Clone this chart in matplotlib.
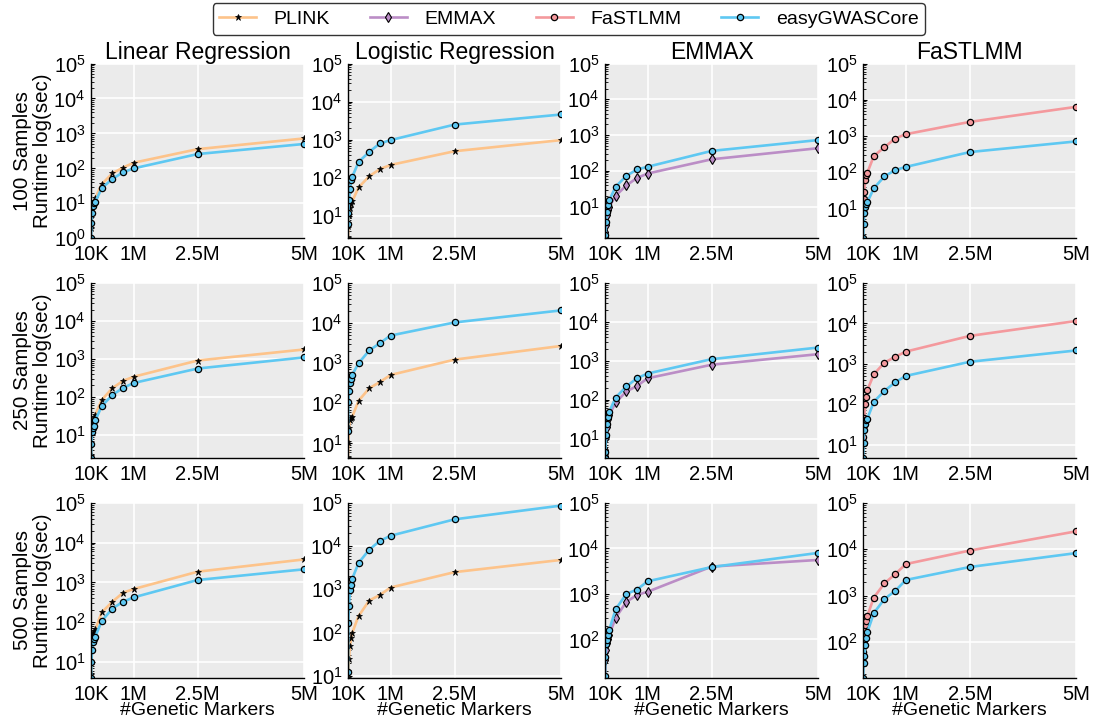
import numpy as np
import matplotlib.pyplot as plt
from matplotlib.ticker import LogLocator, NullFormatter, LogFormatterMathtext

plt.rcParams['font.family'] = ['Liberation Sans', 'DejaVu Sans']
plt.rcParams['mathtext.fontset'] = 'custom'
plt.rcParams['mathtext.rm'] = 'Liberation Sans'
plt.rcParams['mathtext.it'] = 'Liberation Sans:italic'
plt.rcParams['mathtext.default'] = 'regular'

# number of genetic markers
n_markers = [1e3, 1e4, 2.5e4, 5e4, 7.5e4, 1e5, 2.5e5, 5e5, 7.5e5, 1e6, 2.5e6, 5e6]
xtick_pos = [1e4, 1e6, 2.5e6, 5e6]
xtick_lbl = ['10K', '1M', '2.5M', '5M']

sample_sizes = [100, 250, 500]
methods = ['Linear Regression', 'Logistic Regression', 'EMMAX', 'FaSTLMM']

# runtimes in seconds
# 100 samples
plink_lin_100 = [2.0, 4.5, 8, 10, 12, 14, 35, 72, 105, 145, 355, 720]
easy_lin_100 = [1.0, 2.8, 5.2, 8.2, 10, 11, 27, 50, 77, 100, 257, 500]
plink_log_100 = [2.6, 5.4, 10.6, 16.6, 20, 24, 56, 110, 170, 218, 500, 980]
easy_log_100 = [6, 12, 26, 51, 89, 105, 260, 480, 800, 980, 2500, 4600]
emmax_100 = [1.5, 2.0, 3.0, 5.8, 8, 10, 20, 39, 63, 84, 210, 430]
easy_emmax_100 = [1.3, 1.6, 3.8, 7.2, 11, 15, 36, 72, 109, 130, 360, 725]
fastlmm_100 = [8, 18, 29, 59, 85, 98, 280, 490, 850, 1120, 2450, 6400]
easy_fast_100 = [1.5, 3.6, 7.3, 11, 13, 15, 36, 77, 114, 140, 360, 710]

# 250 samples
plink_lin_250 = [3, 12, 18, 25, 29, 34, 83, 170, 265, 340, 910, 1780]
easy_lin_250 = [2.5, 5.8, 11.7, 15, 17.6, 24, 57, 113, 172, 233, 560, 1100]
plink_log_250 = [4.4, 10.6, 24, 38, 42, 46, 116, 237, 340, 510, 1230, 2700]
easy_log_250 = [20, 110, 205, 316, 400, 510, 1000, 2080, 3160, 4900, 10400, 20800]
emmax_250 = [3.5, 5, 11, 20, 32, 40, 85, 162, 225, 355, 790, 1480]
easy_emmax_250 = [3.2, 4.5, 12, 23, 36, 49, 113, 218, 355, 470, 1100, 2190]
fastlmm_250 = [15, 30, 46, 98, 148, 225, 550, 1070, 1480, 2000, 4900, 11500]
easy_fast_250 = [4.7, 11, 23.5, 32, 40, 44, 114, 214, 345, 500, 1120, 2140]

# 500 samples
plink_lin_500 = [5, 29, 42, 52, 60, 66, 175, 325, 550, 680, 1860, 3800]
easy_lin_500 = [4, 10, 20, 31, 38, 43, 106, 220, 325, 420, 1150, 2140]
plink_log_500 = [9, 13, 24, 50, 74, 98, 240, 550, 740, 1100, 2500, 4800]
easy_log_500 = [12, 170, 417, 980, 1230, 1740, 4070, 8300, 13200, 17400, 41700, 87000]
emmax_500 = [14.5, 35, 60, 85, 105, 125, 300, 670, 950, 1120, 4000, 5600]
easy_emmax_500 = [16, 41, 78, 97, 123, 163, 460, 1000, 1250, 1900, 3900, 8000]
fastlmm_500 = [60, 110, 185, 230, 280, 370, 910, 1850, 2900, 4800, 9400, 24500]
easy_fast_500 = [17, 35, 49, 85, 122, 165, 420, 850, 1260, 2180, 4150, 8300]

styles = {
    'PLINK': dict(color='#fdc38a', marker='*', mfc='black', mec='black', ms=5, mew=0.5),
    'EMMAX': dict(color='#bb8dc6', marker='d', mfc='#bb8dc6', mec='black', ms=5.5, mew=0.8),
    'FaSTLMM': dict(color='#f4999d', marker='o', mfc='#f4999d', mec='black', ms=4.5, mew=0.9),
    'easyGWASCore': dict(color='#5ec8f2', marker='o', mfc='#5ec8f2', mec='black', ms=4.5, mew=0.9),
}

panels = [
    [[('PLINK', plink_lin_100), ('easyGWASCore', easy_lin_100)],
     [('PLINK', plink_log_100), ('easyGWASCore', easy_log_100)],
     [('EMMAX', emmax_100), ('easyGWASCore', easy_emmax_100)],
     [('FaSTLMM', fastlmm_100), ('easyGWASCore', easy_fast_100)]],
    [[('PLINK', plink_lin_250), ('easyGWASCore', easy_lin_250)],
     [('PLINK', plink_log_250), ('easyGWASCore', easy_log_250)],
     [('EMMAX', emmax_250), ('easyGWASCore', easy_emmax_250)],
     [('FaSTLMM', fastlmm_250), ('easyGWASCore', easy_fast_250)]],
    [[('PLINK', plink_lin_500), ('easyGWASCore', easy_lin_500)],
     [('PLINK', plink_log_500), ('easyGWASCore', easy_log_500)],
     [('EMMAX', emmax_500), ('easyGWASCore', easy_emmax_500)],
     [('FaSTLMM', fastlmm_500), ('easyGWASCore', easy_fast_500)]],
]

fig = plt.figure(figsize=(10.94, 7.22), dpi=100)
lefts = [0.0832, 0.318, 0.553, 0.789]
bottoms = [0.670, 0.366, 0.0614]
w, h = 0.195, 0.242

for r, row in enumerate(panels):
    for c, series in enumerate(row):
        ax = fig.add_axes([lefts[c], bottoms[r], w, h])
        ax.set_facecolor('#ebebeb')
        for name, vals in series:
            ax.plot(n_markers, vals, lw=1.9, label=name, **styles[name])
        ax.set_yscale('log')
        ymin = min(min(v) for _, v in series)
        ax.set_ylim(ymin, 1e5)
        ax.set_xlim(0, 5e6)
        ax.yaxis.set_major_locator(LogLocator(base=10, numticks=10))
        ax.yaxis.set_major_formatter(LogFormatterMathtext())
        ax.yaxis.set_minor_locator(LogLocator(base=10, subs=np.arange(2, 10), numticks=10))
        ax.yaxis.set_minor_formatter(NullFormatter())
        ax.set_xticks(xtick_pos)
        ax.set_xticklabels(xtick_lbl)
        ax.grid(True, which='major', color='white', lw=1.2)
        ax.set_axisbelow(True)
        for s in ['top', 'right']:
            ax.spines[s].set_visible(False)
        for s in ['left', 'bottom']:
            ax.spines[s].set_color('black')
            ax.spines[s].set_linewidth(1.0)
        ax.tick_params(axis='y', which='major', direction='in', length=3, labelsize=14.5, pad=4)
        ax.tick_params(axis='y', which='minor', direction='in', length=2)
        ax.tick_params(axis='x', length=0, labelsize=14.5, pad=5)
        if r == 0:
            ax.set_title(methods[c], fontsize=16.5, pad=3)
        if c == 0:
            ax.set_ylabel(f'{sample_sizes[r]} Samples\nRuntime log(sec)', fontsize=14.8,
                          labelpad=1, linespacing=1.05)
        if r == 2:
            ax.set_xlabel('#Genetic Markers', fontsize=14, labelpad=-1)

handles = []
labels = []
for name in ['PLINK', 'EMMAX', 'FaSTLMM', 'easyGWASCore']:
    handles.append(plt.Line2D([], [], lw=1.9, **styles[name]))
    labels.append(name)
fig.legend(handles, labels, loc='upper center', ncol=4, bbox_to_anchor=(0.52, 0.998),
           frameon=True, edgecolor='black', fancybox=True, fontsize=14,
           handlelength=1.9, handletextpad=0.9, columnspacing=2.05, borderpad=0.35,
           borderaxespad=0.1)

fig.savefig('out.png', dpi=100)
